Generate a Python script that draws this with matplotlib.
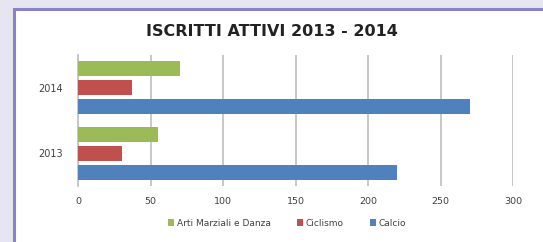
import matplotlib
matplotlib.use("Agg")
import matplotlib.pyplot as plt
from matplotlib.patches import Rectangle
import numpy as np

years = ["2013", "2014"]
series_names = ["Arti Marziali e Danza", "Ciclismo", "Calcio"]
arti = [55, 70]
ciclismo = [30, 37]
calcio = [220, 270]
colors = ["#9bbb59", "#c0504d", "#4f81bd"]
xticks = [0, 50, 100, 150, 200, 250, 300]

fig = plt.figure(figsize=(5.43, 2.42), dpi=100)
fig.patch.set_facecolor("#e7e5f1")

# white panel with purple border
panel = Rectangle((14 / 543, -0.1), 1.2, (242 - 9) / 242 + 0.1,
                  transform=fig.transFigure, facecolor="white",
                  edgecolor="#8783c6", linewidth=2.2, zorder=-10)
fig.patches.append(panel)

ax = fig.add_axes([78 / 543, 56 / 242, 435 / 543, 131 / 242])
ax.set_facecolor("none")

y = np.arange(len(years))
h = 0.23
off = 0.29
for vals, name, c, o in zip([arti, ciclismo, calcio], series_names, colors, [off, 0, -off]):
    ax.barh(y + o, vals, height=h, color=c, label=name, zorder=3)

ax.set_xlim(0, 300)
ax.set_ylim(-0.5, 1.5)
ax.set_xticks(xticks)
ax.set_xticklabels([str(t) for t in xticks])
ax.set_yticks(y)
ax.set_yticklabels(years)
ax.grid(axis="x", color="#c4c4c4", linewidth=1.3, zorder=0)
for s in ["top", "right", "bottom"]:
    ax.spines[s].set_visible(False)
ax.spines["left"].set_color("#c4c4c4")
ax.spines["left"].set_linewidth(1.3)
ax.tick_params(axis="x", length=0, pad=8, labelsize=6.8, labelcolor="#404040")
ax.tick_params(axis="y", length=0, pad=11, labelsize=7, labelcolor="#404040")

fig.text(272 / 543, 1 - 31 / 242, "ISCRITTI ATTIVI 2013 - 2014", ha="center", va="center",
         fontsize=11.5, fontweight="bold", color="#222222", family="DejaVu Sans")

leg = fig.legend(loc="center", bbox_to_anchor=(287 / 543, 1 - 223 / 242), ncol=3,
                 frameon=False, fontsize=6.5, handlelength=0.7, handleheight=0.7,
                 handletextpad=0.3, columnspacing=2.9, labelcolor="#404040")

fig.savefig("out.png", dpi=100, facecolor=fig.get_facecolor())
